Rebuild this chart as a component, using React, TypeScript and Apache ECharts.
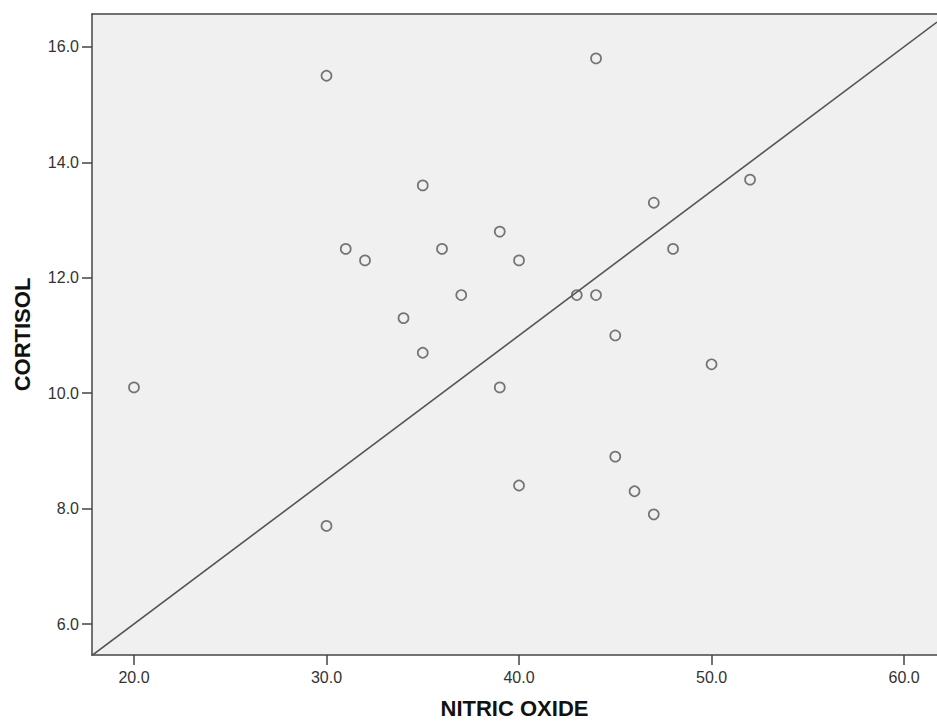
import React, { useEffect, useRef } from "react";
import * as echarts from "echarts";

const nitricOxide = [20, 30, 30, 31, 32, 34, 35, 35, 36, 37, 39, 39, 40, 40, 43, 44, 44, 45, 45, 46, 47, 47, 48, 50, 52];
const cortisol = [10.1, 15.5, 7.7, 12.5, 12.3, 11.3, 13.6, 10.7, 12.5, 11.7, 12.8, 10.1, 12.3, 8.4, 11.7, 15.8, 11.7, 11.0, 8.9, 8.3, 13.3, 7.9, 12.5, 10.5, 13.7];
const refLineX = [17.82, 61.71];
const refLineY = [5.455, 16.43];
const xRange = [17.82, 61.71];
const yRange = [5.463, 16.57];
const xTicks = [20, 30, 40, 50, 60];
const yTicks = [6, 8, 10, 12, 14, 16];

export default function App() {
  const ref = useRef<HTMLDivElement>(null);
  useEffect(() => {
    if (!ref.current) return;
    const chart = echarts.init(ref.current, null, { renderer: "svg" });
    const axisColor = "#444";
    const font = "Liberation Sans, Arial, sans-serif";
    chart.setOption({
      animation: false,
      backgroundColor: "#ffffff",
      grid: {
        left: 92,
        top: 14,
        right: 0,
        bottom: 69,
        show: true,
        backgroundColor: "#f0f0f0",
        borderWidth: 0,
      },
      xAxis: [
        {
          type: "value",
          min: xRange[0],
          max: xRange[1],
          name: "NITRIC OXIDE",
          nameLocation: "middle",
          nameGap: 42,
          nameTextStyle: { fontFamily: font, fontWeight: "bold", fontSize: 22, color: "#111" },
          splitLine: { show: false },
          axisLine: { show: true, lineStyle: { color: axisColor, width: 1.5 } },
          axisTick: { show: true, length: 10, customValues: xTicks, lineStyle: { color: axisColor, width: 1.5 } },
          axisLabel: {
            customValues: xTicks,
            formatter: (v: number) => v.toFixed(1),
            fontFamily: font,
            fontSize: 16,
            color: "#333",
            margin: 14,
          },
        },
        {
          type: "value",
          position: "top",
          min: xRange[0],
          max: xRange[1],
          splitLine: { show: false },
          axisLine: { show: true, lineStyle: { color: axisColor, width: 1.5 } },
          axisTick: { show: false },
          axisLabel: { show: false },
        },
      ],
      yAxis: {
        type: "value",
        min: yRange[0],
        max: yRange[1],
        name: "CORTISOL",
        nameLocation: "middle",
        nameRotate: 90,
        nameGap: 59,
        nameTextStyle: { fontFamily: font, fontWeight: "bold", fontSize: 22, color: "#111" },
        splitLine: { show: false },
        axisLine: { show: true, lineStyle: { color: axisColor, width: 1.5 } },
        axisTick: { show: true, length: 10, customValues: yTicks, lineStyle: { color: axisColor, width: 1.5 } },
        axisLabel: {
          customValues: yTicks,
          formatter: (v: number) => v.toFixed(1),
          fontFamily: font,
          fontSize: 16,
          color: "#333",
          margin: 13,
        },
      },
      series: [
        {
          type: "line",
          xAxisIndex: 0,
          data: refLineX.map((x, i) => [x, refLineY[i]]),
          symbol: "none",
          lineStyle: { color: "#555", width: 1.6 },
          z: 2,
        },
        {
          type: "scatter",
          xAxisIndex: 0,
          data: nitricOxide.map((x, i) => [x, cortisol[i]]),
          symbol: "circle",
          symbolSize: 10,
          itemStyle: { color: "rgba(0,0,0,0)", borderColor: "#555", borderWidth: 1.7 },
          z: 3,
        },
      ],
    });
    return () => chart.dispose();
  }, []);
  return <div ref={ref} style={{ position: "absolute", left: 0, top: 0, width: 937, height: 724 }} />;
}
